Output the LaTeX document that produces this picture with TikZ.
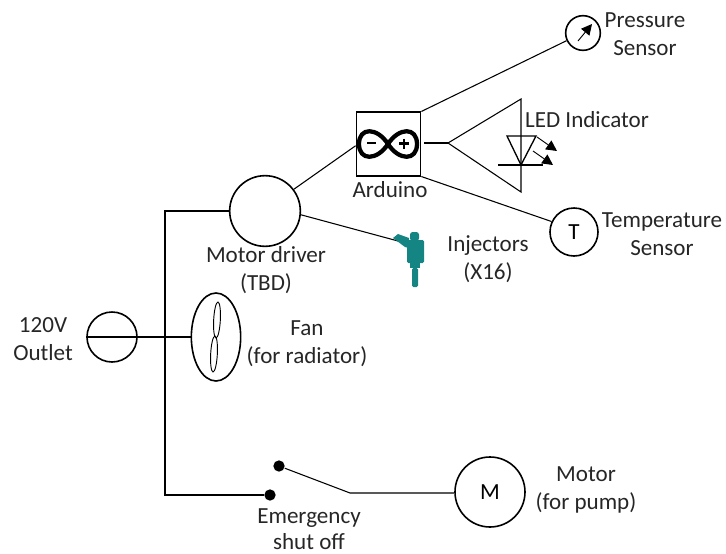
\documentclass[tikz,border=0pt]{standalone}
\usepackage{fontspec}
\setmainfont{Carlito}
\usetikzlibrary{shapes.geometric,arrows.meta}
\definecolor{injector}{RGB}{20,133,130}
\tikzset{
    round node/.style={circle,draw,inner sep=0pt,line width=1.2pt},
    label node/.style={align=center,inner sep=0pt,font=\fontsize{17.3}{21}\selectfont,text=black!85},
    blade node/.style={ellipse,draw,inner sep=0pt,line width=0.7pt,minimum width=5pt,minimum height=27pt},
    contact node/.style={circle,fill=black,inner sep=0pt,minimum size=8.5pt}
}
\begin{document}
\begin{tikzpicture}[x=0.75pt,y=-0.75pt,line width=0.8pt]
    \useasboundingbox (0,0) rectangle (726,554);

    \node[round node,minimum size=37.5pt] (outlet) at (112,337) {};
    \node[ellipse,draw,line width=1.2pt,inner sep=0pt,minimum width=37pt,minimum height=66pt] (fan) at (216,337) {};
    \node[blade node,rotate=-3] (blade1) at (217,320) {};
    \node[blade node,rotate=-3] (blade2) at (214,354) {};
    \node[round node,minimum size=53pt] (driver) at (265,211) {};
    \node[draw,inner sep=0pt,minimum width=48.5pt,minimum height=48pt] (arduino) at (388.5,144) {};
    \node[round node,minimum size=26pt] (pressure) at (583,33) {};
    \node[round node,minimum size=36pt,font=\fontsize{17.3}{21}\selectfont] (temp) at (574,232) {T};
    \node[round node,minimum size=52.5pt,font=\fontsize{17.3}{21}\selectfont] (motor) at (490,492) {M};
    \node[contact node] (contact1) at (270,495) {};
    \node[contact node] (contact2) at (279,466) {};

    \coordinate (top) at (165,211);
    \coordinate (bottom) at (165,495);
    \coordinate (hinge) at (350,493);
    \coordinate (split) at (448,143);
    \coordinate (ledtop) at (521,99);
    \coordinate (ledbottom) at (521,192);
    \coordinate (needle1) at (578,41);
    \coordinate (needle2) at (592,24);
    \coordinate (tipin) at (398,241);

    % wiring
    \draw (outlet.west) -- (fan.west);
    \draw (driver.west) -- (top) -- (bottom) -- (contact1);
    \draw (contact2) -- (hinge) -- (motor.west |- hinge);
    \draw (driver.37) -- (arduino.183);
    \draw (driver.-6) -- (tipin);
    \draw (arduino.north east) -- (pressure.205);
    \draw (arduino.south east) -- (temp.155);
    \draw ([xshift=2pt]arduino.east |- split) -- (split);

    % LED
    \draw[line width=0.8pt] (ledtop) -- (split) -- (ledbottom) -- cycle;
    \draw[line width=1pt] (507,136) -- (536,136) -- (521,165) -- cycle;
    \draw[line width=1pt] (498,165) -- (543,165);
    \draw[-{Triangle[length=8pt,width=8pt]},line width=0.7pt] (537,137) -- (557,151);
    \draw[-{Triangle[length=8pt,width=8pt]},line width=0.7pt] (533,151) -- (553,165);

    % pressure needle
    \draw[-{Triangle[length=8pt,width=8pt]},line width=0.7pt] (needle1) -- (needle2);

    % arduino logo
    \draw[line width=3.2pt,black] (388,144) .. controls (377,127) and (359,127) .. (359,144)
        .. controls (359,161) and (377,161) .. (388,144)
        .. controls (399,127) and (417,127) .. (417,144)
        .. controls (417,161) and (399,161) .. (388,144);
    \draw[line width=2pt] (367,143) -- (376,143);
    \draw[line width=2pt] (399,143.5) -- (409,143.5) (404,138.5) -- (404,148.5);

    % injector
    \fill[injector] (393,238) -- (398,234) -- (409,238) -- (409,248) -- (405,247) -- cycle;
    \fill[injector,rounded corners=2pt] (410,232) rectangle (419,241);
    \fill[injector,rounded corners=1pt] (407,240) rectangle (424,263);
    \fill[injector] (410,263) rectangle (420,268);
    \fill[injector,rounded corners=1pt] (412,268) rectangle (418,287);

    % labels
    \node[label node] (pressure label) at (645,34) {Pressure\\Sensor};
    \node[label node] (led label) at (587,120) {LED Indicator};
    \node[label node] (arduino label) at (390,190) {Arduino};
    \node[label node] (temp label) at (662,234) {Temperature\\Sensor};
    \node[label node] (driver label) at (266,270.5) {Motor driver\\(TBD)};
    \node[label node] (injector label) at (488,259) {Injectors\\(X16)};
    \node[label node] (outlet label) at (43,339) {120V\\Outlet};
    \node[label node] (fan label) at (307,344) {Fan\\(for radiator)};
    \node[label node] (switch label) at (309,529) {Emergency\\[-1.5pt]shut off};
    \node[label node] (motor label) at (586,490) {Motor\\(for pump)};
\end{tikzpicture}
\end{document}
